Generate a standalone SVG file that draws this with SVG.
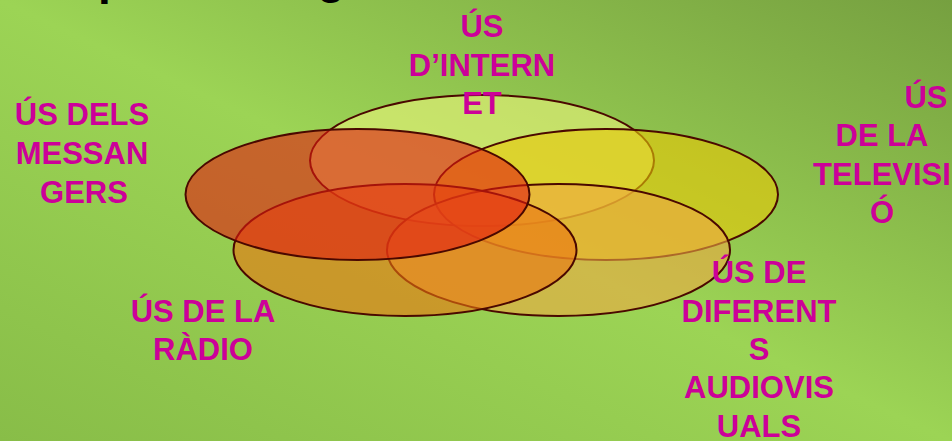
<svg xmlns="http://www.w3.org/2000/svg" width="952" height="441" viewBox="0 0 952 441">
<defs>
<linearGradient id="bg" x1="0" y1="1" x2="1" y2="0">
<stop offset="0" stop-color="#88bd48"/>
<stop offset="0.5" stop-color="#9cd455"/>
<stop offset="1" stop-color="#76a040"/>
</linearGradient>
<style>
.e{stroke:#4a0800;stroke-width:2;fill-opacity:0.6}
.t{font-family:"Liberation Sans",Arial,sans-serif;font-weight:bold;font-size:31px;fill:#cc0099;text-anchor:middle}
.h{font-family:"Liberation Sans",Arial,sans-serif;font-weight:bold;font-size:46px;fill:#000}
</style>
</defs>
<rect width="952" height="441" fill="url(#bg)"/>
<g id="title">
<text class="h" x="98" y="-6">p</text>
<text class="h" x="317" y="-7">g</text>
</g>
<g id="venn">
<g id="internet"><ellipse class="e" cx="482" cy="160.5" rx="172" ry="65.5" fill="#e9f37b"/></g>
<g id="televisio"><ellipse class="e" cx="606" cy="194.5" rx="172" ry="65.5" fill="#e9c807"/></g>
<g id="audiovisuals"><ellipse class="e" cx="558.5" cy="250" rx="171.5" ry="66" fill="#eea843"/></g>
<g id="radio"><ellipse class="e" cx="405" cy="250" rx="171.5" ry="66" fill="#eb7511"/></g>
<g id="messangers"><ellipse class="e" cx="357.5" cy="194.5" rx="172" ry="65.5" fill="#e31b11"/></g>
</g>
<g id="labels">
<text class="t"><tspan x="82" y="125">ÚS DELS</tspan><tspan x="82" y="164">MESSAN</tspan><tspan x="84" y="203">GERS</tspan></text>
<text class="t"><tspan x="482" y="37">ÚS</tspan><tspan x="482" y="76">D’INTERN</tspan><tspan x="482" y="114">ET</tspan></text>
<text class="t"><tspan x="926" y="108">ÚS</tspan><tspan x="882" y="146">DE LA</tspan><tspan x="882" y="185">TELEVISI</tspan><tspan x="882" y="223">Ó</tspan></text>
<text class="t"><tspan x="203" y="322">ÚS DE LA</tspan><tspan x="203" y="360">RÀDIO</tspan></text>
<text class="t"><tspan x="759" y="283">ÚS DE</tspan><tspan x="759" y="322">DIFERENT</tspan><tspan x="759" y="360">S</tspan><tspan x="759" y="398">AUDIOVIS</tspan><tspan x="759" y="437">UALS</tspan></text>
</g>
</svg>
